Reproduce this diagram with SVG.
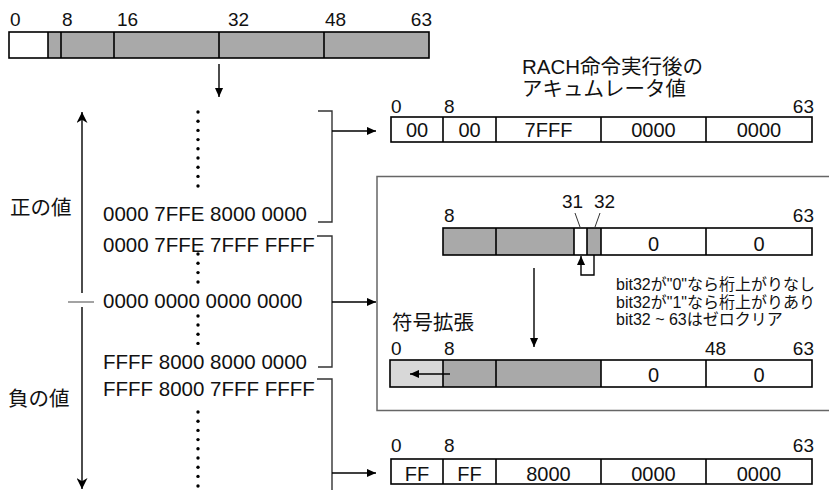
<svg xmlns="http://www.w3.org/2000/svg" width="829" height="490" viewBox="0 0 829 490">
<style>
text{font-family:"Liberation Sans","Noto Sans CJK JP",sans-serif;fill:#111}
.t{font-size:20.5px}
.n{font-size:19px}
.s{font-size:16px}
.c{font-size:20px;text-anchor:middle}
.e{text-anchor:end}
.ol{fill:none;stroke:#000;stroke-width:1.6}
.dv{stroke:#000;stroke-width:1.6}
.g{fill:#a9a9a9}
.lg{fill:#d8d8d8}
.w{fill:#fff}
.br{fill:none;stroke:#333;stroke-width:1.4}
.ar{fill:none;stroke:#000;stroke-width:1.4}
.thin{fill:none;stroke:#333;stroke-width:1}
.dot{fill:#000}
</style>
<defs>
<marker id="ah" viewBox="0 0 10 10" refX="10" refY="5" markerWidth="9" markerHeight="9" markerUnits="userSpaceOnUse" orient="auto"><path d="M0,0.5 L10,5 L0,9.5 z" fill="#000"/></marker>
<marker id="st" viewBox="0 0 10 10" refX="10" refY="5" markerWidth="11" markerHeight="11" markerUnits="userSpaceOnUse" orient="auto"><path d="M0,0 L10,5 L0,10 L3,5 z" fill="#000"/></marker>
<circle id="d" r="1.7" class="dot"/>
</defs>

<g id="source-register">
<text class="n" x="10" y="26">0</text>
<text class="n" x="62" y="26">8</text>
<text class="n" x="117" y="26">16</text>
<text class="n" x="228" y="26">32</text>
<text class="n" x="325" y="26">48</text>
<text class="n e" x="432" y="26">63</text>
<rect x="9" y="32" width="39" height="26" class="w"/>
<rect x="48" y="32" width="381" height="26" class="g"/>
<line x1="48" y1="32" x2="48" y2="58" class="dv"/>
<line x1="61" y1="32" x2="61" y2="58" class="dv"/>
<line x1="114" y1="32" x2="114" y2="58" class="dv"/>
<line x1="219" y1="32" x2="219" y2="58" class="dv"/>
<line x1="324" y1="32" x2="324" y2="58" class="dv"/>
<rect x="9" y="32" width="420" height="26" class="ol"/>
</g>

<g id="value-axis">
<text class="t" x="10" y="215">正の値</text>
<text class="t" x="8" y="406">負の値</text>
<line x1="68" y1="302" x2="94" y2="302" stroke="#666" stroke-width="1.2"/>
</g>

<g id="value-list">
<text class="t" x="103" y="221">0000 7FFE 8000 0000</text>
<text class="t" x="103" y="251.5">0000 7FFE 7FFF FFFF</text>
<text class="t" x="103" y="308">0000 0000 0000 0000</text>
<text class="t" x="103" y="369">FFFF 8000 8000 0000</text>
<text class="t" x="103" y="395.5">FFFF 8000 7FFF FFFF</text>
<use href="#d" x="198" y="112"/><use href="#d" x="198" y="121.2"/><use href="#d" x="198" y="130.4"/><use href="#d" x="198" y="139.6"/><use href="#d" x="198" y="148.8"/><use href="#d" x="198" y="158"/><use href="#d" x="198" y="167.2"/><use href="#d" x="198" y="176.4"/><use href="#d" x="198" y="186"/>
<use href="#d" x="198" y="254"/><use href="#d" x="198" y="263.3"/><use href="#d" x="198" y="272.6"/><use href="#d" x="198" y="282"/>
<use href="#d" x="198" y="316"/><use href="#d" x="198" y="325"/><use href="#d" x="198" y="334.2"/><use href="#d" x="198" y="343.4"/>
<use href="#d" x="198" y="412"/><use href="#d" x="198" y="421.2"/><use href="#d" x="198" y="430.4"/><use href="#d" x="198" y="439.6"/><use href="#d" x="198" y="448.8"/><use href="#d" x="198" y="458"/><use href="#d" x="198" y="467.2"/><use href="#d" x="198" y="476.4"/><use href="#d" x="198" y="486"/>
</g>

<g id="result-title">
<text class="t" x="522" y="74">RACH命令実行後の</text>
<text class="t" x="522" y="96">アキュムレータ値</text>
</g>

<g id="result-positive">
<text class="n" x="391" y="113">0</text>
<text class="n" x="444" y="113">8</text>
<text class="n e" x="814" y="113">63</text>
<rect x="391" y="117" width="421" height="25" class="w"/>
<line x1="443" y1="117" x2="443" y2="142" class="dv"/>
<line x1="496" y1="117" x2="496" y2="142" class="dv"/>
<line x1="601" y1="117" x2="601" y2="142" class="dv"/>
<line x1="706" y1="117" x2="706" y2="142" class="dv"/>
<rect x="391" y="117" width="421" height="25" class="ol"/>
<text class="c" x="417" y="137">00</text>
<text class="c" x="469.5" y="137">00</text>
<text class="c" x="548.5" y="137">7FFF</text>
<text class="c" x="653.5" y="137">0000</text>
<text class="c" x="759" y="137">0000</text>
</g>

<g id="rounding-frame">
<rect x="377" y="176.5" width="470" height="234" fill="none" stroke="#666" stroke-width="1.5"/>
</g>

<g id="rounding-register">
<text class="n" x="444" y="222">8</text>
<text class="n e" x="814" y="222">63</text>
<text class="n" x="562" y="208">31</text>
<text class="n" x="594" y="208">32</text>
<rect x="443" y="228" width="131" height="27" class="g"/>
<rect x="574" y="228" width="13" height="27" class="w"/>
<rect x="587" y="228" width="14" height="27" class="g"/>
<rect x="601" y="228" width="211" height="27" class="w"/>
<line x1="496" y1="228" x2="496" y2="255" class="dv"/>
<line x1="574" y1="228" x2="574" y2="255" class="dv"/>
<line x1="587" y1="228" x2="587" y2="255" class="dv"/>
<line x1="601" y1="228" x2="601" y2="255" class="dv"/>
<line x1="706" y1="228" x2="706" y2="255" class="dv"/>
<rect x="443" y="228" width="369" height="27" class="ol"/>
<text class="c" x="653.5" y="251">0</text>
<text class="c" x="759" y="251">0</text>
</g>

<g id="rounding-note">
<text class="s" x="616" y="290">bit32が"0"なら桁上がりなし</text>
<text class="s" x="616" y="308">bit32が"1"なら桁上がりあり</text>
<text class="s" x="616" y="325">bit32 ~ 63はゼロクリア</text>
</g>

<g id="sign-extend-register">
<text class="t" x="392" y="330">符号拡張</text>
<text class="n" x="391" y="355">0</text>
<text class="n" x="444" y="355">8</text>
<text class="n" x="705" y="355">48</text>
<text class="n e" x="814" y="355">63</text>
<rect x="390" y="360" width="53" height="27" class="lg"/>
<rect x="443" y="360" width="158" height="27" class="g"/>
<rect x="601" y="360" width="211" height="27" class="w"/>
<line x1="443" y1="360" x2="443" y2="387" class="dv"/>
<line x1="496" y1="360" x2="496" y2="387" class="dv"/>
<line x1="601" y1="360" x2="601" y2="387" class="dv"/>
<line x1="706" y1="360" x2="706" y2="387" class="dv"/>
<rect x="390" y="360" width="422" height="27" class="ol"/>
<text class="c" x="653.5" y="382">0</text>
<text class="c" x="759" y="382">0</text>
</g>

<g id="result-negative">
<text class="n" x="391" y="452">0</text>
<text class="n" x="444" y="452">8</text>
<text class="n e" x="814" y="452">63</text>
<rect x="391" y="459" width="421" height="25" class="w"/>
<line x1="443" y1="459" x2="443" y2="484" class="dv"/>
<line x1="496" y1="459" x2="496" y2="484" class="dv"/>
<line x1="601" y1="459" x2="601" y2="484" class="dv"/>
<line x1="706" y1="459" x2="706" y2="484" class="dv"/>
<rect x="391" y="459" width="421" height="25" class="ol"/>
<text class="c" x="417" y="481">FF</text>
<text class="c" x="469.5" y="481">FF</text>
<text class="c" x="548.5" y="481">8000</text>
<text class="c" x="653.5" y="481">0000</text>
<text class="c" x="759" y="481">0000</text>
</g>

<g id="connectors">
<line x1="219" y1="64" x2="219" y2="97" class="ar" marker-end="url(#ah)"/>
<line x1="82" y1="293" x2="82" y2="112" class="ar" marker-end="url(#st)"/>
<line x1="82" y1="307" x2="82" y2="489" class="ar" marker-end="url(#st)"/>
<path d="M318,111 H332 V222 H318" class="br"/>
<path d="M317,236 H332 V367 H318" class="br"/>
<path d="M317,379 H332 V492" class="br"/>
<line x1="332" y1="131" x2="376" y2="131" class="ar" marker-end="url(#ah)"/>
<line x1="332" y1="302" x2="376" y2="302" class="ar" marker-end="url(#ah)"/>
<line x1="332" y1="473" x2="376" y2="473" class="ar" marker-end="url(#ah)"/>
<line x1="575" y1="213" x2="580" y2="227" class="thin"/>
<line x1="600" y1="213" x2="595" y2="227" class="thin"/>
<path d="M594,255 V275 H581 V256" class="ar" marker-end="url(#ah)"/>
<line x1="534" y1="268" x2="534" y2="347" class="ar" marker-end="url(#ah)"/>
<line x1="450" y1="374" x2="410" y2="374" class="ar" marker-end="url(#ah)"/>
</g>
</svg>
